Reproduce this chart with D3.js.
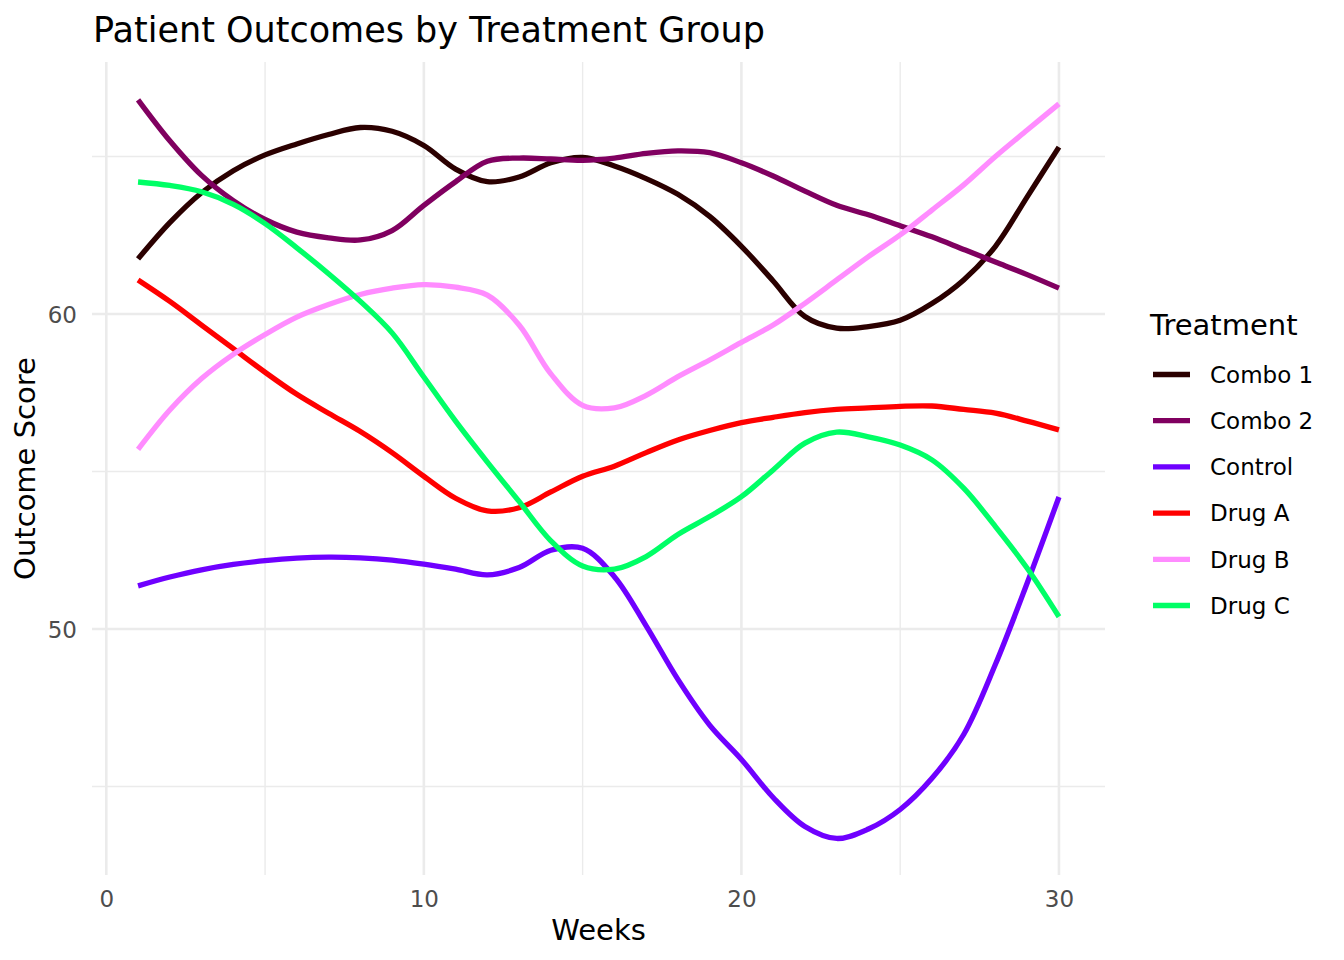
<!DOCTYPE html>
<html>
<head>
<meta charset="utf-8">
<script src="https://cdn.jsdelivr.net/npm/d3@7"></script>
<style>
  html, body { margin: 0; padding: 0; background: #ffffff; }
  svg { display: block; font-family: "DejaVu Sans", sans-serif; }
</style>
</head>
<body>
<svg id="chart" width="1344" height="960"></svg>
<script>
// ---------- data ----------
const weeks = [1,2,3,4,5,6,7,8,9,10,11,12,13,14,15,16,17,18,19,20,21,22,23,24,25,26,27,28,29,30];

const combo1 = [61.75,62.9,63.85,64.55,65.05,65.4,65.7,65.92,65.8,65.35,64.6,64.2,64.35,64.8,64.97,64.7,64.3,63.8,63.1,62.15,61.05,59.92,59.55,59.6,59.8,60.33,61.08,62.15,63.72,65.3];
const combo2 = [66.8,65.5,64.4,63.6,63.0,62.6,62.42,62.35,62.65,63.45,64.2,64.85,64.95,64.92,64.88,64.95,65.1,65.18,65.12,64.8,64.38,63.9,63.45,63.15,62.8,62.45,62.05,61.65,61.25,60.82];
const control = [51.37,51.65,51.88,52.05,52.17,52.25,52.28,52.26,52.19,52.06,51.9,51.72,51.95,52.5,52.56,51.66,50.1,48.4,46.95,45.86,44.65,43.73,43.35,43.65,44.27,45.26,46.65,48.88,51.46,54.19];
const drugA = [61.08,60.4,59.65,58.9,58.15,57.45,56.85,56.27,55.6,54.85,54.15,53.75,53.85,54.35,54.85,55.17,55.6,56.0,56.3,56.55,56.72,56.87,56.97,57.02,57.07,57.08,56.97,56.85,56.6,56.32];
const drugB = [55.7,56.95,57.95,58.72,59.35,59.9,60.3,60.62,60.82,60.93,60.85,60.6,59.65,58.1,57.1,57.02,57.42,58.01,58.54,59.1,59.65,60.34,61.08,61.82,62.51,63.3,64.1,65.0,65.84,66.67];
const drugC = [64.19,64.08,63.88,63.48,62.87,62.1,61.28,60.4,59.4,58.0,56.6,55.3,54.05,52.8,52.0,51.9,52.3,53.0,53.57,54.2,55.05,55.9,56.25,56.1,55.84,55.37,54.47,53.25,51.93,50.39];

const seriesNames = ["Combo 1","Combo 2","Control","Drug A","Drug B","Drug C"];
const seriesValues = [combo1, combo2, control, drugA, drugB, drugC];
const seriesColors = ["#2b0000","#800060","#6f00ff","#ff0000","#ff8cff","#00ff66"];

const xMajorTicks = [0,10,20,30];
const xMinorTicks = [5,15,25];
const yMajorTicks = [50,60];
const yMinorTicks = [45,55,65];

const titleText = "Patient Outcomes by Treatment Group";
const xTitle = "Weeks";
const yTitle = "Outcome Score";
const legendTitle = "Treatment";

// ---------- layout ----------
const panel = { left: 92, right: 1105, top: 62, bottom: 875 };

const x = d3.scaleLinear().domain([-0.45, 31.45]).range([panel.left, panel.right]);
const y = d3.scaleLinear().domain([42.2, 68.0]).range([874.7, 62]);

const svg = d3.select("#chart");

// grid
const grid = svg.append("g");
grid.selectAll("line.xminor").data(xMinorTicks).join("line")
  .attr("x1", d => x(d)).attr("x2", d => x(d))
  .attr("y1", panel.top).attr("y2", panel.bottom)
  .attr("stroke", "#ebebeb").attr("stroke-width", 1.4);
grid.selectAll("line.yminor").data(yMinorTicks).join("line")
  .attr("y1", d => y(d)).attr("y2", d => y(d))
  .attr("x1", panel.left).attr("x2", panel.right)
  .attr("stroke", "#ebebeb").attr("stroke-width", 1.4);
grid.selectAll("line.xmajor").data(xMajorTicks).join("line")
  .attr("x1", d => x(d)).attr("x2", d => x(d))
  .attr("y1", panel.top).attr("y2", panel.bottom)
  .attr("stroke", "#ebebeb").attr("stroke-width", 2.6);
grid.selectAll("line.ymajor").data(yMajorTicks).join("line")
  .attr("y1", d => y(d)).attr("y2", d => y(d))
  .attr("x1", panel.left).attr("x2", panel.right)
  .attr("stroke", "#ebebeb").attr("stroke-width", 2.6);

// axes (text only, theme_minimal)
const xAxis = d3.axisBottom(x).tickValues(xMajorTicks).tickSize(0).tickPadding(0);
const gx = svg.append("g").call(xAxis);
gx.select(".domain").remove();
gx.selectAll(".tick text")
  .attr("y", 906.5).attr("dy", null)
  .attr("fill", "#4d4d4d").style("font-size", "23px")
  .style("font-family", "DejaVu Sans, sans-serif");

const yAxis = d3.axisLeft(y).tickValues(yMajorTicks).tickSize(0).tickPadding(0);
const gy = svg.append("g").call(yAxis);
gy.select(".domain").remove();
gy.selectAll(".tick text")
  .attr("x", 77).attr("dy", "0.36em")
  .attr("text-anchor", "end")
  .attr("fill", "#4d4d4d").style("font-size", "23px")
  .style("font-family", "DejaVu Sans, sans-serif");

// lines
const line = d3.line()
  .x((d, i) => x(weeks[i]))
  .y(d => y(d))
  .curve(d3.curveCatmullRom.alpha(0.5));

svg.append("g").selectAll("path").data(seriesValues).join("path")
  .attr("d", d => line(d))
  .attr("fill", "none")
  .attr("stroke", (d, i) => seriesColors[i])
  .attr("stroke-width", 5.3)
  .attr("stroke-linejoin", "round")
  .attr("stroke-linecap", "butt");

// titles
svg.append("text").attr("x", 93).attr("y", 41.5)
  .style("font-size", "35px").attr("fill", "#000").text(titleText);

svg.append("text").attr("x", (panel.left + panel.right) / 2).attr("y", 940)
  .attr("text-anchor", "middle").style("font-size", "29px").attr("fill", "#000").text(xTitle);

svg.append("text")
  .attr("transform", `translate(35,${(panel.top + panel.bottom) / 2}) rotate(-90)`)
  .attr("text-anchor", "middle").style("font-size", "29px").attr("fill", "#000").text(yTitle);

// legend
const legend = svg.append("g");
legend.append("text").attr("x", 1150).attr("y", 335)
  .style("font-size", "29px").attr("fill", "#000").text(legendTitle);

const keyY = d3.scalePoint().domain(seriesNames).range([374.5, 605.5]);
const items = legend.selectAll("g.item").data(seriesNames).join("g")
  .attr("transform", d => `translate(0,${keyY(d)})`);
items.append("line")
  .attr("x1", 1153).attr("x2", 1190).attr("y1", 0).attr("y2", 0)
  .attr("stroke", (d, i) => seriesColors[i]).attr("stroke-width", 5.3);
items.append("text")
  .attr("x", 1210).attr("y", 0).attr("dy", "0.36em")
  .style("font-size", "23px").attr("fill", "#000").text(d => d);
</script>
</body>
</html>
